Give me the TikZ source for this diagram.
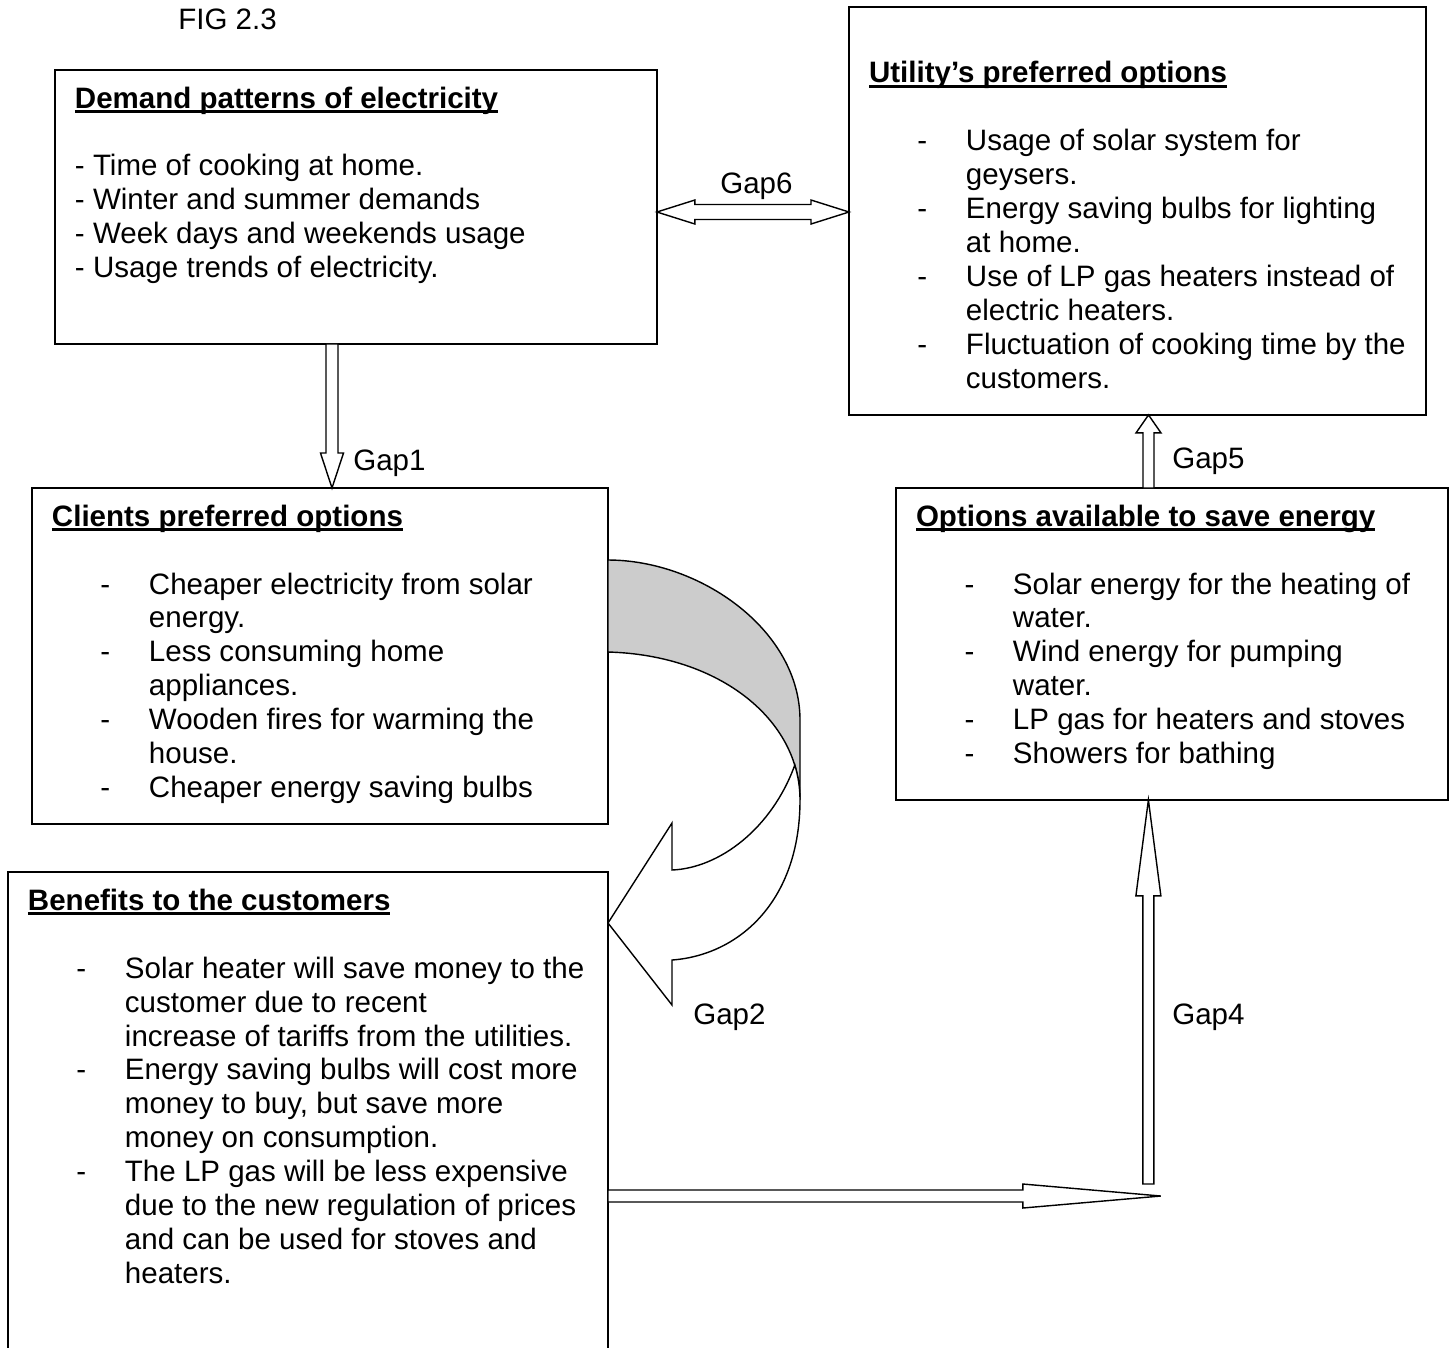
\documentclass[tikz,border=0pt]{standalone}
\usepackage{fontspec}
\setmainfont{Liberation Sans}
\usetikzlibrary{calc}

\newsavebox\hdbox
\newcommand\heading[1]{{\bfseries\sbox\hdbox{#1}\rlap{\rule[-2.9pt]{\wd\hdbox}{1.5pt}}\usebox\hdbox}}
\newcommand\plainline[1]{\strut\mbox{#1}}
\newcommand\dashline[1]{\strut\hspace*{0.97cm}\makebox[0.97cm][l]{-}\mbox{#1}}
\newcommand\contline[1]{\strut\hspace*{1.94cm}\mbox{#1}}
\newcommand\panelbox[3]{\parbox[t][\dimexpr#2cm-0.568cm\relax][t]{\dimexpr#1cm-0.8cm\relax}{#3}}
% block arrow: start, end, shaft half width, head half width, head length
\newcommand\blockarrow[5]{%
  \coordinate (ba-s) at (#1);
  \coordinate (ba-e) at (#2);
  \coordinate (ba-h) at ($(ba-e)!#5!(ba-s)$);
  \path[arrowline] ($(ba-s)!#3!90:(ba-e)$) -- ($(ba-h)!#3!-90:(ba-s)$) -- ($(ba-h)!#4!-90:(ba-s)$)
    -- (ba-e) -- ($(ba-h)!#4!90:(ba-s)$) -- ($(ba-h)!#3!90:(ba-s)$) -- ($(ba-s)!#3!-90:(ba-e)$) -- cycle;
}
\newcommand\dblarrow[5]{%
  \coordinate (ba-s) at (#1);
  \coordinate (ba-e) at (#2);
  \coordinate (ba-h) at ($(ba-e)!#5!(ba-s)$);
  \coordinate (ba-t) at ($(ba-s)!#5!(ba-e)$);
  \path[arrowline] (ba-s) -- ($(ba-t)!#4!90:(ba-e)$) -- ($(ba-t)!#3!90:(ba-e)$) -- ($(ba-h)!#3!-90:(ba-s)$)
    -- ($(ba-h)!#4!-90:(ba-s)$) -- (ba-e) -- ($(ba-h)!#4!90:(ba-s)$) -- ($(ba-h)!#3!90:(ba-s)$)
    -- ($(ba-t)!#3!-90:(ba-e)$) -- ($(ba-t)!#4!-90:(ba-e)$) -- cycle;
}

\begin{document}
\begin{tikzpicture}[x=0.02cm,y=-0.02cm,font={\fontsize{16.8}{19.35}\selectfont},
  panel/.style={draw,line width=1.1pt,anchor=north west,outer sep=0pt,inner xsep=0.4cm,inner ysep=0.284cm},
  arrowline/.style={draw,fill=white,line width=0.8pt,line join=miter},
  gaplabel/.style={anchor=base west,inner sep=0pt}]
 \clip (0,0) rectangle (1456,1347);

 \node[gaplabel] (fig) at (178,29) {FIG 2.3};

 \node[panel] (demand) at (55,70) {\panelbox{12.04}{5.48}{%
   \strut\heading{Demand patterns of electricity}\\[0.68cm]
   \plainline{- Time of cooking at home.}\\
   \plainline{- Winter and summer demands}\\
   \plainline{- Week days and weekends usage}\\
   \plainline{- Usage trends of electricity.}}};

 \node[panel] (utility) at (849,7) {\panelbox{11.54}{8.16}{%
   \vspace*{0.76cm}
   \strut\heading{Utility’s preferred options}\\[0.68cm]
   \dashline{Usage of solar system for}\\
   \contline{geysers.}\\
   \dashline{Energy saving bulbs for lighting}\\
   \contline{at home.}\\
   \dashline{Use of LP gas heaters instead of}\\
   \contline{electric heaters.}\\
   \dashline{Fluctuation of cooking time by the}\\
   \contline{customers.}}};

 \node[panel] (clients) at (32,488) {\panelbox{11.52}{6.72}{%
   \strut\heading{Clients preferred options}\\[0.68cm]
   \dashline{Cheaper electricity from solar}\\
   \contline{energy.}\\
   \dashline{Less consuming home}\\
   \contline{appliances.}\\
   \dashline{Wooden fires for warming the}\\
   \contline{house.}\\
   \dashline{Cheaper energy saving bulbs}}};

 \node[panel] (options) at (896,488) {\panelbox{11.04}{6.24}{%
   \strut\heading{Options available to save energy}\\[0.68cm]
   \dashline{Solar energy for the heating of}\\
   \contline{water.}\\
   \dashline{Wind energy for pumping}\\
   \contline{water.}\\
   \dashline{LP gas for heaters and stoves}\\
   \dashline{Showers for bathing}}};

 \node[panel] (benefits) at (8,872) {\panelbox{12.0}{10.56}{%
   \strut\heading{Benefits to the customers}\\[0.68cm]
   \dashline{Solar heater will save money to the}\\
   \contline{customer due to recent}\\
   \contline{increase of tariffs from the utilities.}\\
   \dashline{Energy saving bulbs will cost more}\\
   \contline{money to buy, but save more}\\
   \contline{money on consumption.}\\
   \dashline{The LP gas will be less expensive}\\
   \contline{due to the new regulation of prices}\\
   \contline{and can be used for stoves and}\\
   \contline{heaters.}}};

 % Gap1
 \coordinate (gone) at ($(demand.south west)+(277,0)$);
 \blockarrow{gone}{gone |- clients.north}{0.12cm}{0.23cm}{0.7cm}
 \node[gaplabel] (gapone) at (353,470) {Gap1};

 % Gap6
 \coordinate (gsix) at ($(demand.north east)+(0,142)$);
 \dblarrow{gsix}{gsix -| utility.west}{0.15cm}{0.24cm}{0.76cm}
 \node[gaplabel] (gapsix) at (720,193) {Gap6};

 % Gap2
 \filldraw[arrowline,fill=gray!40] (608,560) .. controls (700,560) and (800,630) .. (800,720) -- (800,800)
   .. controls (800,720) and (720,655) .. (608,652) -- cycle;
 \filldraw[arrowline] (794.8,765) .. controls (772,828) and (720,868) .. (672,870) -- (672,823) -- (608,923)
   -- (672,1005) -- (672,960) .. controls (740,955) and (800,900) .. (800,800)
   .. controls (800,788) and (798.2,776.3) .. (794.8,765) -- cycle;
 \node[gaplabel] (gaptwo) at (693,1024) {Gap2};

 % to Gap4
 \coordinate (meet) at ($(benefits.north east)+(553,324)$);
 \blockarrow{benefits.east |- meet}{meet}{0.12cm}{0.24cm}{2.76cm}
 \coordinate (gfour) at ($(meet)+(-12.5,-12)$);
 \blockarrow{gfour}{gfour |- options.south}{0.11cm}{0.25cm}{1.92cm}
 \node[gaplabel] (gapfour) at (1172,1024) {Gap4};

 % Gap5
 \coordinate (gfive) at ($(options.north west)+(252.5,0)$);
 \blockarrow{gfive}{gfive |- utility.south}{0.11cm}{0.25cm}{0.36cm}
 \node[gaplabel] (gapfive) at (1172,468) {Gap5};
\end{tikzpicture}
\end{document}
